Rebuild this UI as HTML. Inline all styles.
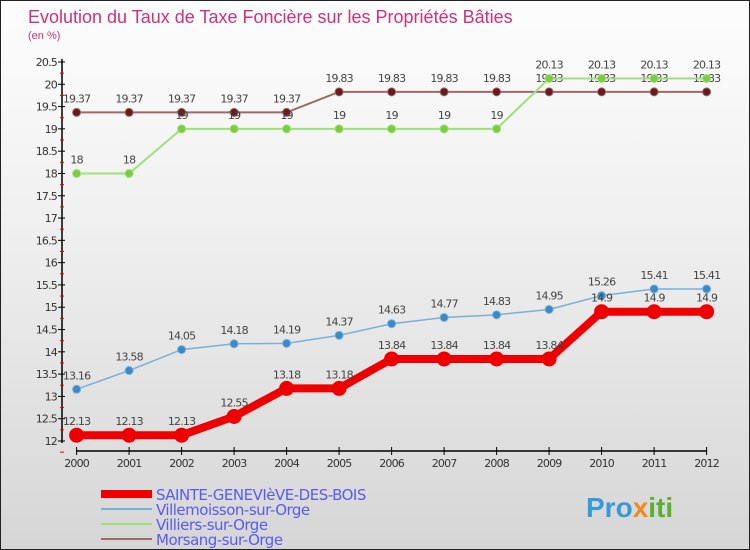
<!DOCTYPE html>
<html><head><meta charset="utf-8"><style>
body{margin:0}
#c{width:750px;height:550px;position:relative;overflow:hidden;box-sizing:border-box;border:1px solid #222;background:linear-gradient(#fdfdfd,#f0f0f0 40%,#d6d6d6);font-family:"DejaVu Sans","Liberation Sans",sans-serif}
</style></head><body>
<div id="c">
<svg id="s" width="750" height="550" style="position:absolute;left:0;top:0">
<text x="27" y="22" font-size="18" fill="#d0307a" font-family="Liberation Sans,sans-serif">Evolution du Taux de Taxe Foncière sur les Propriétés Bâties</text>
<text x="27" y="38" font-size="11" fill="#d0307a" font-family="Liberation Sans,sans-serif">(en %)</text>
<text x="585" y="516" font-size="28" font-weight="bold" fill="#3a9ad8" font-family="Liberation Sans,sans-serif">Pro<tspan fill="#f08a1c">x</tspan><tspan fill="#5ab030">iti</tspan></text>
</svg>
</div>
<script>
const years=[2000,2001,2002,2003,2004,2005,2006,2007,2008,2009,2010,2011,2012];
const yTicks=[12,12.5,13,13.5,14,14.5,15,15.5,16,16.5,17,17.5,18,18.5,19,19.5,20,20.5];
const sainte=[12.13,12.13,12.13,12.55,13.18,13.18,13.84,13.84,13.84,13.84,14.9,14.9,14.9];
const villemoisson=[13.16,13.58,14.05,14.18,14.19,14.37,14.63,14.77,14.83,14.95,15.26,15.41,15.41];
const villiers=[18,18,19,19,19,19,19,19,19,20.13,20.13,20.13,20.13];
const morsang=[19.37,19.37,19.37,19.37,19.37,19.83,19.83,19.83,19.83,19.83,19.83,19.83,19.83];
const names=["SAINTE-GENEVIèVE-DES-BOIS","Villemoisson-sur-Orge","Villiers-sur-Orge","Morsang-sur-Orge"];
const NS="http://www.w3.org/2000/svg",svg=document.getElementById('s');
const xS=i=>75.6+i*52.5, yS=v=>440-(v-12)*(379/8.5);
function mk(t,a,p){const e=document.createElementNS(NS,t);for(const k in a)e.setAttribute(k,a[k]);(p||svg).appendChild(e);return e;}
let ax=mk('line',{x1:61,y1:58,x2:61,y2:442,stroke:'#000','stroke-width':1.5});


yTicks.forEach(v=>{const y=yS(v);
 mk('line',{x1:57,y1:y,x2:64,y2:y,stroke:'#000'});
 mk('line',{x1:59,y1:y+11.15,x2:63,y2:y+11.15,stroke:'#e00'});
 const t=mk('text',{x:56,y:y+4,'font-size':11,'text-anchor':'end',fill:'#333','letter-spacing':'-0.8'});t.textContent=v;
 
 });
let xa=mk('line',{x1:75,y1:450,x2:706,y2:450,stroke:'#000','stroke-width':1.5});


years.forEach((yr,i)=>{const x=xS(i);mk('line',{x1:x,y1:446,x2:x,y2:454,stroke:'#000'});
 const t=mk('text',{x:x,y:466,'font-size':11,'text-anchor':'middle',fill:'#333','letter-spacing':'-0.8'});t.textContent=yr;
 
 });
function series(data,col,dot,w,r,name){
 const g=mk('g',{});
 
 
 mk('polyline',{points:data.map((v,i)=>xS(i)+','+yS(v)).join(' '),fill:'none',stroke:col,'stroke-width':w},g);
 data.forEach((v,i)=>{const c=mk('circle',{cx:xS(i),cy:yS(v),r:r,fill:dot,stroke:col},g);
  
  
  const t=mk('text',{x:xS(i),y:yS(v)-10,'font-size':11,'text-anchor':'middle',fill:'#444','letter-spacing':'-0.8'},g);t.textContent=v;
  
  });
}
series(morsang,'#9a6a6a','#6a1a1a',2,4,'series-morsang');
series(villiers,'#9ee07a','#7acc40',2,4,'series-villiers');
series(villemoisson,'#7ab0d8','#3a8ac8',1.5,4,'series-villemoisson');
series(sainte,'#ee0000','#ee0000',8,7,'series-sainte-genevieve');
const lc=['#ee0000','#7ab0d8','#9ee07a','#9a6a6a'],lw=[8,2,2,2];
names.forEach((n,i)=>{const y=493+i*15;
 const l=mk('line',{x1:100,y1:y,x2:151,y2:y,stroke:lc[i],'stroke-width':lw[i]});
 
 
 const t=mk('text',{x:155,y:y+6,'font-size':15,fill:'#5a5af0','letter-spacing':'-0.5'});t.textContent=n;
 
 });
</script>
</body></html>
